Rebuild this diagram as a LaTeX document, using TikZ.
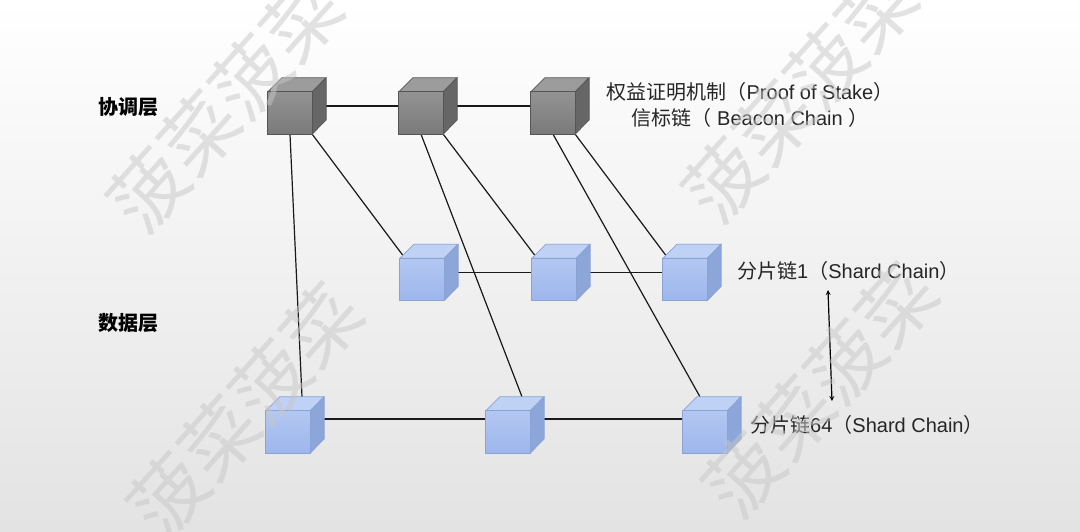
\documentclass[tikz,border=0pt]{standalone}
\usepackage{fontspec}
\setmainfont{Liberation Sans}
\newfontfamily\zh{Noto Sans CJK SC}
\usepackage{tikz}

\definecolor{beaconfront}{HTML}{808080}
\definecolor{beacontop}{HTML}{9C9C9C}
\definecolor{beaconside}{HTML}{666666}
\definecolor{beaconedge}{HTML}{555555}
\definecolor{shardfronttop}{HTML}{B3C7F2}
\definecolor{shardfrontbot}{HTML}{9DB6EC}
\definecolor{shardtop}{HTML}{BFD1F5}
\definecolor{shardside}{HTML}{8DA6DA}
\definecolor{shardedge}{HTML}{8AA2D4}

\tikzset{
  every cube/.style={minimum width=44pt, minimum height=42pt, inner sep=0pt},
  wire/.style={line width=1.2pt, black!90},
  chain text/.style={inner sep=0pt, font=\fontsize{20}{26}\selectfont, text=black!85},
  layer text/.style={inner sep=0pt, font=\zh\bfseries\fontsize{20}{24}\selectfont},
  watermark/.style={rotate=48, inner sep=0pt, text=black!22, opacity=0.5,
    font=\zh\fontsize{76}{76}\selectfont}
}

\begin{document}
\begin{tikzpicture}[x=1pt, y=-1pt, >=stealth]
\path [use as bounding box] (0,0) rectangle (1080,531);
\clip (0,0) rectangle (1080,531);
\shade [top color=white, bottom color=black!11] (0,0) rectangle (1080,531);

\foreach \m [count=\i] in {290,421,553}
  \node [every cube] (beacon-\i) at (\m,113) {};

\foreach \m [count=\i] in {422,554,685}
  \node [every cube] (shard-\i) at (\m,279.5) {};

\foreach \m [count=\i] in {288,508,705}
  \node [every cube] (shardn-\i) at (\m,432) {};

% chains
\foreach \i/\j in {1/2,2/3} {
  \draw [wire] ([shift={(7,-7)}]beacon-\i.center) -- ([shift={(7,-7)}]beacon-\j.center);
  \draw [wire] ([shift={(7,-7)}]shard-\i.center) -- ([shift={(7,-7)}]shard-\j.center);
  \draw [wire] ([shift={(7,-13)}]shardn-\i.center) -- ([shift={(7,-13)}]shardn-\j.center);
}

\foreach \i in {1,2,3}
  \draw [wire] (beacon-\i.south east) -- ([shift={(3,-3)}]shard-\i.north west);

\draw [wire] (beacon-1.south) -- ([shift={(14,-14)}]shardn-1.north);
\draw [wire] (beacon-2.south) -- ([shift={(14,-14)}]shardn-2.north);
\draw [wire] (beacon-3.south) -- ([shift={(-5,-14)}]shardn-3.north);

% cubes
\foreach \n in {beacon-1,beacon-2,beacon-3} {
  \draw [fill=beacontop, draw=beaconedge, line width=0.7pt]
    (\n.north west) -- ++(14,-14) -- ++(44,0) -- (\n.north east) -- cycle;
  \draw [fill=beaconside, draw=beaconedge, line width=0.7pt]
    (\n.north east) -- ++(14,-14) -- ++(0,42) -- (\n.south east) -- cycle;
  \draw [top color=beaconfront!85!white, bottom color=beaconfront!95!black,
    draw=beaconedge, line width=0.7pt] (\n.north west) rectangle (\n.south east);
}

\foreach \n in {shard-1,shard-2,shard-3,shardn-1,shardn-2,shardn-3} {
  \draw [fill=shardtop, draw=shardedge, line width=0.7pt]
    (\n.north west) -- ++(14,-14) -- ++(44,0) -- (\n.north east) -- cycle;
  \draw [fill=shardside, draw=shardedge, line width=0.7pt]
    (\n.north east) -- ++(14,-14) -- ++(0,42) -- (\n.south east) -- cycle;
  \draw [top color=shardfronttop, bottom color=shardfrontbot,
    draw=shardedge, line width=0.7pt] (\n.north west) rectangle (\n.south east);
}

% labels
\node [layer text] (coord-layer) at (128,107) {协调层};
\node [layer text] (data-layer) at (128,323) {数据层};

\node [chain text, align=center] (beacon-text) at (750,105)
  {{\zh 权益证明机制（}Proof of Stake{\zh ）}\\{\zh 信标链（} Beacon Chain {\zh ）}};
\node [chain text, anchor=west] (shard-text) at (737,271)
  {{\zh 分片链}1{\zh （}Shard Chain{\zh ）}};
\node [chain text, anchor=west] (shardn-text) at (750,425)
  {{\zh 分片链}64{\zh （}Shard Chain{\zh ）}};

\coordinate (span-top) at (828,290);
\coordinate (span-bot) at (832,401);
\draw [<->, line width=1.2pt] (span-top) -- (span-bot);

% watermark
\foreach \x/\y [count=\i] in {225/105, 245/410, 800/95, 820/390}
  \node [watermark] (mark-\i) at (\x,\y) {菠菜菠菜};
\end{tikzpicture}
\end{document}
